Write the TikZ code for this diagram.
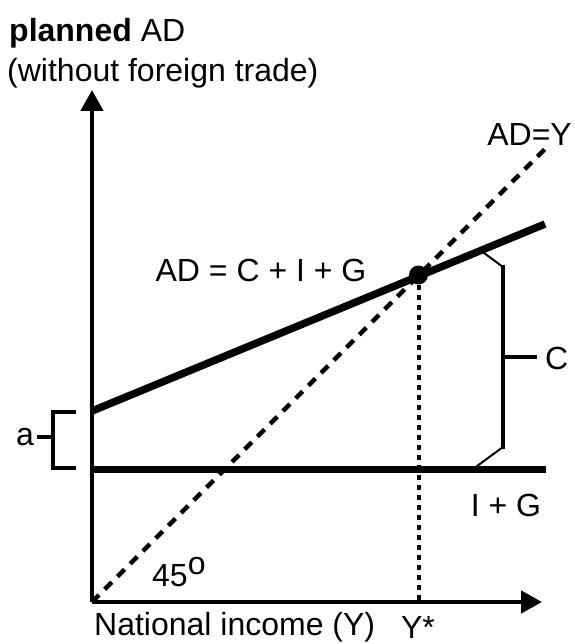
\documentclass[tikz,border=0pt]{standalone}
\usepackage{fontspec}
\setmainfont{Liberation Sans}
\usetikzlibrary{arrows.meta}
\begin{document}
\begin{tikzpicture}[x=1pt,y=-1pt,
  lbl/.style={inner sep=0pt,font=\fontsize{32}{37}\selectfont},
  axisline/.style={line width=4.8pt,-{Triangle[length=21pt,width=22pt]}},
  adline/.style={line width=7.5pt},
  igline/.style={line width=7pt},
  brk/.style={line width=4pt},
  slant/.style={line width=2pt},
  dashline/.style={line width=4.5pt,dash pattern=on 10pt off 8pt},
  dotline/.style={line width=4pt,dash pattern=on 5pt off 5pt}]
\useasboundingbox (0,0) rectangle (574,644);
% coordinates
\coordinate (O) at (92,602);
\coordinate (ytip) at (92,90);
\coordinate (xtip) at (542,602);
\coordinate (ad0) at (92,411);
\coordinate (ad1) at (545,224);
\coordinate (ig0) at (92,469);
\coordinate (ig1) at (546,469);
\coordinate (d1) at (548,146);
\coordinate (E) at (418.5,275);
\coordinate (Ebase) at (418.5,600);
% C brace
\coordinate (ct) at (480,250);
\coordinate (cv1) at (503,267);
\coordinate (cv2) at (503,447);
\coordinate (cb) at (473,469);
\coordinate (cm) at (503,357);
\coordinate (cm2) at (537,357);
% a brace
\coordinate (at1) at (76,412);
\coordinate (av1) at (53,412);
\coordinate (av2) at (53,468);
\coordinate (ab1) at (76,468);
\coordinate (am) at (53,437);
\coordinate (am2) at (37,437);

% lines
\draw[dashline] (O) -- (d1);
\draw[dotline] (E) -- (Ebase);
\draw[igline] (ig0) -- (ig1);
\draw[adline] (ad0) -- (ad1);
\draw[axisline] (O) -- (ytip);
\draw[axisline] (O) -- (xtip);
\fill (E) circle (9.5pt);
% C brace
\draw[slant] (ct) -- (cv1);
\draw[slant] (cv2) -- (cb);
\draw[brk,line cap=rect] (cv1) -- (cv2);
\draw[brk] (cm) -- (cm2);
% a brace
\draw[brk,line join=miter] (at1) -- (av1) -- (av2) -- (ab1);
\draw[brk] (am) -- (am2);

% labels
\node[lbl,anchor=west] (title1) at (9,33) {\textbf{planned} AD};
\node[lbl,anchor=west] (title2) at (7,73) {(without foreign trade)};
\node[lbl,anchor=east] (adeq) at (572,134) {AD=Y};
\node[lbl] (adcig) at (261,270) {AD = C + I + G};
\node[lbl,anchor=west] (clbl) at (545,358) {C};
\node[lbl,anchor=east] (albl) at (34,437) {a};
\node[lbl] (iglbl) at (506,505) {I + G};
\node[lbl,anchor=west] (deg) at (152,572) {45\raisebox{0.35em}{o}};
\node[lbl,anchor=west] (xlbl) at (94,627) {National income (Y)};
\node[lbl] (ystar) at (418,627) {Y*};
\end{tikzpicture}
\end{document}
